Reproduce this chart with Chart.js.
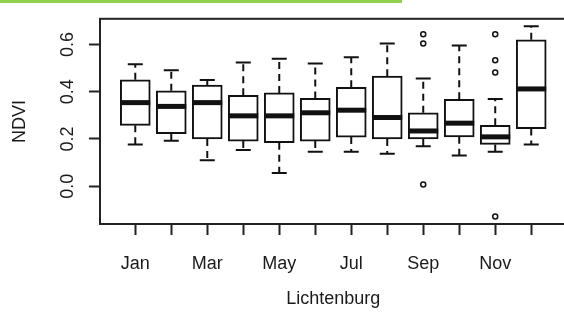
<!DOCTYPE html>
<html>
<head>
<meta charset="utf-8">
<script src="https://cdn.jsdelivr.net/npm/chart.js@4/dist/chart.umd.min.js"></script>
<style>
  html, body { margin: 0; padding: 0; background: #fff; overflow: hidden; width: 564px; height: 328px; }
  #wrap { position: relative; width: 572px; height: 328px; }
  #wrap canvas { position: absolute; left: 0; top: 0; }
  #accent { position: absolute; left: 0; top: 0; width: 402px; height: 3px; background: #92d050; z-index: 2; }
</style>
</head>
<body>
<div id="wrap">
  <canvas id="chart" width="572" height="328"></canvas>
  <div id="accent"></div>
</div>
<script>
// Monthly NDVI distribution, Lichtenburg
const months = ['Jan', 'Feb', 'Mar', 'Apr', 'May', 'Jun', 'Jul', 'Aug', 'Sep', 'Oct', 'Nov', 'Dec'];
const labelledMonths = ['Jan', 'Mar', 'May', 'Jul', 'Sep', 'Nov'];

const whiskerLow  = [0.177, 0.193, 0.110, 0.153, 0.056, 0.146, 0.146, 0.137, 0.169, 0.130, 0.146, 0.177];
const quartile1   = [0.258, 0.223, 0.200, 0.191, 0.184, 0.191, 0.208, 0.200, 0.200, 0.209, 0.177, 0.244];
const medians     = [0.354, 0.338, 0.354, 0.298, 0.298, 0.311, 0.322, 0.291, 0.234, 0.267, 0.209, 0.412];
const quartile3   = [0.451, 0.404, 0.428, 0.385, 0.395, 0.372, 0.419, 0.466, 0.311, 0.368, 0.258, 0.620];
const whiskerHigh = [0.517, 0.491, 0.450, 0.524, 0.540, 0.520, 0.546, 0.604, 0.456, 0.596, 0.369, 0.677];

const outlierMonth = ['Sep', 'Sep', 'Sep', 'Nov', 'Nov', 'Nov', 'Nov'];
const outlierValue = [0.644, 0.604, 0.007, 0.644, 0.533, 0.482, -0.128];

const yTicks = [0, 0.2, 0.4, 0.6];
const yMin = -0.160;
const yMax = 0.709;

const FONT = 'Liberation Sans, Arial, sans-serif';
const INK = '#111';
const TEXT = '#1a1a1a';

const boxData = months.map((m, i) => ({ x: i + 1, y: [quartile1[i], quartile3[i]] }));
const outlierData = outlierMonth.map((m, i) => ({ x: months.indexOf(m) + 1, y: outlierValue[i] }));

// Dashed whiskers with solid staples, drawn beneath the boxes
const whiskerPlugin = {
  id: 'whiskers',
  beforeDatasetsDraw(chart) {
    const { ctx } = chart;
    const xs = chart.scales.x, ys = chart.scales.y;
    ctx.save();
    ctx.strokeStyle = INK;
    ctx.lineWidth = 2;
    months.forEach((m, i) => {
      const x = xs.getPixelForValue(i + 1);
      const yHi = ys.getPixelForValue(whiskerHigh[i]);
      const yQ3 = ys.getPixelForValue(quartile3[i]);
      const yQ1 = ys.getPixelForValue(quartile1[i]);
      const yLo = ys.getPixelForValue(whiskerLow[i]);
      ctx.setLineDash([7, 5]);
      ctx.beginPath();
      ctx.moveTo(x, yQ3); ctx.lineTo(x, yHi);
      ctx.moveTo(x, yQ1); ctx.lineTo(x, yLo);
      ctx.stroke();
      ctx.setLineDash([]);
      ctx.beginPath();
      ctx.moveTo(x - 7.5, yHi); ctx.lineTo(x + 7.5, yHi);
      ctx.moveTo(x - 7.5, yLo); ctx.lineTo(x + 7.5, yLo);
      ctx.stroke();
    });
    ctx.restore();
  },
  afterDatasetsDraw(chart) {
    // heavy median bar across each box
    const { ctx } = chart;
    const ys = chart.scales.y;
    const meta = chart.getDatasetMeta(0);
    ctx.save();
    ctx.strokeStyle = INK;
    ctx.lineWidth = 5;
    meta.data.forEach((bar, i) => {
      const half = bar.width / 2;
      const y = ys.getPixelForValue(medians[i]);
      ctx.beginPath();
      ctx.moveTo(bar.x - half, y);
      ctx.lineTo(bar.x + half, y);
      ctx.stroke();
    });
    ctx.restore();
  },
  afterDraw(chart) {
    // frame around the plotting region
    const { ctx, chartArea: a } = chart;
    ctx.save();
    ctx.strokeStyle = '#222';
    ctx.lineWidth = 2;
    ctx.strokeRect(a.left, a.top, a.right - a.left, a.bottom - a.top);
    ctx.restore();
  }
};

new Chart(document.getElementById('chart'), {
  data: {
    datasets: [
      {
        type: 'bar',
        data: boxData,
        backgroundColor: '#fff',
        borderColor: INK,
        borderWidth: 2,
        borderSkipped: false,
        barThickness: 30,
        order: 2
      },
      {
        type: 'scatter',
        data: outlierData,
        pointStyle: 'circle',
        pointRadius: 2.5,
        pointBorderWidth: 1.5,
        pointBorderColor: INK,
        pointBackgroundColor: '#fff',
        order: 1
      }
    ]
  },
  options: {
    responsive: false,
    animation: false,
    events: [],
    layout: { padding: { left: 0, right: 2, top: 8, bottom: 0 } },
    plugins: { legend: { display: false }, tooltip: { enabled: false } },
    scales: {
      x: {
        type: 'linear',
        offset: false,
        min: 0.02,
        max: 12.98,
        afterBuildTicks(scale) { scale.ticks = months.map((m, i) => ({ value: i + 1 })); },
        afterFit(scale) { scale.height = 104; },
        ticks: {
          autoSkip: false,
          maxRotation: 0,
          padding: 18,
          color: TEXT,
          font: { family: FONT, size: 18 },
          callback: (v) => {
            const m = months[Math.round(v) - 1];
            return labelledMonths.includes(m) ? m : '';
          }
        },
        grid: { offset: false, drawOnChartArea: false, drawTicks: true, tickLength: 11, tickWidth: 2, tickColor: '#222' },
        border: { display: false },
        title: {
          display: true,
          text: 'Lichtenburg',
          color: TEXT,
          font: { family: FONT, size: 18 },
          padding: { top: 0, bottom: 18 }
        }
      },
      y: {
        type: 'linear',
        min: yMin,
        max: yMax,
        afterBuildTicks(scale) { scale.ticks = yTicks.map(v => ({ value: v })); },
        afterFit(scale) { scale.width = 100; },
        ticks: {
          minRotation: 90,
          maxRotation: 90,
          crossAlign: 'center',
          padding: 8,
          color: TEXT,
          font: { family: FONT, size: 18 },
          callback: (v) => v.toFixed(1)
        },
        grid: { drawOnChartArea: false, drawTicks: true, tickLength: 11, tickWidth: 2, tickColor: '#222' },
        border: { display: false },
        title: {
          display: true,
          text: 'NDVI',
          color: TEXT,
          font: { family: FONT, size: 18 },
          padding: { top: 9, bottom: 0 }
        }
      }
    }
  },
  plugins: [whiskerPlugin]
});
</script>
</body>
</html>
